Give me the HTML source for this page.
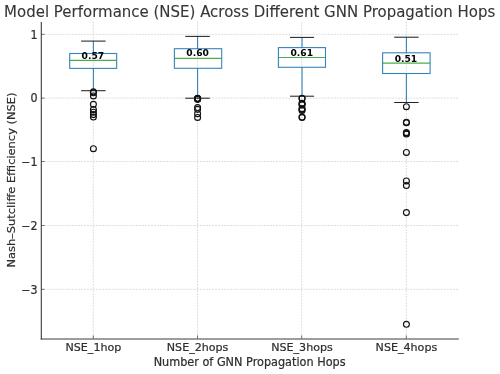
<!DOCTYPE html>
<html lang="en">
<head>
<meta charset="utf-8">
<title>Model Performance (NSE) Across Different GNN Propagation Hops</title>
<style>
html,body{margin:0;padding:0;background:#ffffff;}
body{width:500px;height:374px;overflow:hidden;position:relative;}
</style>
</head>
<body>
<svg width="500" height="374" viewBox="0 0 500 374" style="position:absolute;left:0;top:0;display:block" font-family='"DejaVu Sans","Liberation Sans",sans-serif'>
<rect x="0" y="0" width="500" height="374" fill="#ffffff"/>
<g stroke="#c3c3c3" stroke-width="0.55" stroke-dasharray="2.0 1.05" fill="none">
<line x1="93.3" y1="21.6" x2="93.3" y2="338.7"/>
<line x1="197.5" y1="21.6" x2="197.5" y2="338.7"/>
<line x1="301.7" y1="21.6" x2="301.7" y2="338.7"/>
<line x1="406.3" y1="21.6" x2="406.3" y2="338.7"/>
<line x1="41.2" y1="34.35" x2="458.8" y2="34.35"/>
<line x1="41.2" y1="98.10" x2="458.8" y2="98.10"/>
<line x1="41.2" y1="161.50" x2="458.8" y2="161.50"/>
<line x1="41.2" y1="225.50" x2="458.8" y2="225.50"/>
<line x1="41.2" y1="289.30" x2="458.8" y2="289.30"/>
</g>
<g fill="none">
<g stroke="#1f77b4" stroke-width="1.1" stroke-opacity="0.9">
<line x1="93.4" y1="53.5" x2="93.4" y2="41.1"/>
<line x1="93.4" y1="68.4" x2="93.4" y2="90.7"/>
<rect x="69.7" y="53.5" width="46.95" height="14.90"/>
</g>
<line x1="69.7" y1="60.3" x2="116.65" y2="60.3" stroke="#2ca02c" stroke-width="1.15" stroke-opacity="0.85"/>
<line x1="81.1" y1="41.1" x2="105.6" y2="41.1" stroke="#222" stroke-width="1.05"/>
<line x1="81.1" y1="90.7" x2="105.6" y2="90.7" stroke="#222" stroke-width="1.05"/>
<circle cx="93.4" cy="91.8" r="2.95" stroke="#111" stroke-width="1.15"/>
<circle cx="93.4" cy="92.8" r="2.95" stroke="#111" stroke-width="1.15"/>
<circle cx="93.4" cy="95.9" r="2.95" stroke="#111" stroke-width="1.15"/>
<circle cx="93.4" cy="104.3" r="2.95" stroke="#111" stroke-width="1.15"/>
<circle cx="93.4" cy="109.6" r="2.95" stroke="#111" stroke-width="1.15"/>
<circle cx="93.4" cy="112.2" r="2.95" stroke="#111" stroke-width="1.15"/>
<circle cx="93.4" cy="114.6" r="2.95" stroke="#111" stroke-width="1.15"/>
<circle cx="93.4" cy="117.0" r="2.95" stroke="#111" stroke-width="1.15"/>
<circle cx="93.4" cy="148.7" r="2.95" stroke="#111" stroke-width="1.15"/>
</g>
<text x="92.9" y="58.75" font-size="9.5" font-weight="bold" fill="#000" text-anchor="middle" textLength="22.6" lengthAdjust="spacingAndGlyphs">0.57</text>
<g fill="none">
<g stroke="#1f77b4" stroke-width="1.1" stroke-opacity="0.9">
<line x1="197.6" y1="48.7" x2="197.6" y2="36.4"/>
<line x1="197.6" y1="68.3" x2="197.6" y2="98.2"/>
<rect x="174.4" y="48.7" width="47.30" height="19.60"/>
</g>
<line x1="174.4" y1="58.4" x2="221.7" y2="58.4" stroke="#2ca02c" stroke-width="1.15" stroke-opacity="0.85"/>
<line x1="185.3" y1="36.4" x2="209.8" y2="36.4" stroke="#222" stroke-width="1.05"/>
<line x1="185.3" y1="98.2" x2="209.8" y2="98.2" stroke="#222" stroke-width="1.05"/>
<circle cx="197.6" cy="98.3" r="2.95" stroke="#111" stroke-width="1.15"/>
<circle cx="197.6" cy="98.6" r="2.95" stroke="#111" stroke-width="1.15"/>
<circle cx="197.6" cy="98.85" r="2.95" stroke="#111" stroke-width="1.15"/>
<circle cx="197.6" cy="99.1" r="2.95" stroke="#111" stroke-width="1.15"/>
<circle cx="197.6" cy="99.35" r="2.95" stroke="#111" stroke-width="1.15"/>
<circle cx="197.6" cy="107.55" r="2.95" stroke="#111" stroke-width="1.15"/>
<circle cx="197.6" cy="109.35" r="2.95" stroke="#111" stroke-width="1.15"/>
<circle cx="197.6" cy="113.7" r="2.95" stroke="#111" stroke-width="1.15"/>
<circle cx="197.6" cy="117.4" r="2.95" stroke="#111" stroke-width="1.15"/>
</g>
<text x="197.6" y="56.25" font-size="9.5" font-weight="bold" fill="#000" text-anchor="middle" textLength="22.6" lengthAdjust="spacingAndGlyphs">0.60</text>
<g fill="none">
<g stroke="#1f77b4" stroke-width="1.1" stroke-opacity="0.9">
<line x1="302.05" y1="47.6" x2="302.05" y2="37.4"/>
<line x1="302.05" y1="67.3" x2="302.05" y2="96.2"/>
<rect x="278.4" y="47.6" width="47.10" height="19.70"/>
</g>
<line x1="278.4" y1="57.45" x2="325.5" y2="57.45" stroke="#2ca02c" stroke-width="1.15" stroke-opacity="0.85"/>
<line x1="290.0" y1="37.4" x2="314.1" y2="37.4" stroke="#222" stroke-width="1.05"/>
<line x1="290.0" y1="96.2" x2="314.1" y2="96.2" stroke="#222" stroke-width="1.05"/>
<circle cx="302.05" cy="98.2" r="2.95" stroke="#111" stroke-width="1.15"/>
<circle cx="302.05" cy="98.6" r="2.95" stroke="#111" stroke-width="1.15"/>
<circle cx="302.05" cy="103.2" r="2.95" stroke="#111" stroke-width="1.15"/>
<circle cx="302.05" cy="104.0" r="2.95" stroke="#111" stroke-width="1.15"/>
<circle cx="302.05" cy="104.9" r="2.95" stroke="#111" stroke-width="1.15"/>
<circle cx="302.05" cy="108.7" r="2.95" stroke="#111" stroke-width="1.15"/>
<circle cx="302.05" cy="109.5" r="2.95" stroke="#111" stroke-width="1.15"/>
<circle cx="302.05" cy="110.4" r="2.95" stroke="#111" stroke-width="1.15"/>
<circle cx="302.05" cy="117.1" r="2.95" stroke="#111" stroke-width="1.15"/>
<circle cx="302.05" cy="117.5" r="2.95" stroke="#111" stroke-width="1.15"/>
</g>
<text x="301.75" y="56.25" font-size="9.5" font-weight="bold" fill="#000" text-anchor="middle" textLength="22.6" lengthAdjust="spacingAndGlyphs">0.61</text>
<g fill="none">
<g stroke="#1f77b4" stroke-width="1.1" stroke-opacity="0.9">
<line x1="406.4" y1="52.8" x2="406.4" y2="37.2"/>
<line x1="406.4" y1="73.5" x2="406.4" y2="102.5"/>
<rect x="382.6" y="52.8" width="47.50" height="20.70"/>
</g>
<line x1="382.6" y1="63.05" x2="430.1" y2="63.05" stroke="#2ca02c" stroke-width="1.15" stroke-opacity="0.85"/>
<line x1="394.2" y1="37.2" x2="418.6" y2="37.2" stroke="#222" stroke-width="1.05"/>
<line x1="394.2" y1="102.5" x2="418.6" y2="102.5" stroke="#222" stroke-width="1.05"/>
<circle cx="406.4" cy="106.7" r="2.95" stroke="#111" stroke-width="1.15"/>
<circle cx="406.4" cy="122.2" r="2.95" stroke="#111" stroke-width="1.15"/>
<circle cx="406.4" cy="122.8" r="2.95" stroke="#111" stroke-width="1.15"/>
<circle cx="406.4" cy="132.6" r="2.95" stroke="#111" stroke-width="1.15"/>
<circle cx="406.4" cy="133.2" r="2.95" stroke="#111" stroke-width="1.15"/>
<circle cx="406.4" cy="134.0" r="2.95" stroke="#111" stroke-width="1.15"/>
<circle cx="406.4" cy="152.4" r="2.95" stroke="#111" stroke-width="1.15"/>
<circle cx="406.4" cy="180.9" r="2.95" stroke="#111" stroke-width="1.15"/>
<circle cx="406.4" cy="185.5" r="2.95" stroke="#111" stroke-width="1.15"/>
<circle cx="406.4" cy="212.6" r="2.95" stroke="#111" stroke-width="1.15"/>
<circle cx="406.4" cy="324.3" r="2.95" stroke="#111" stroke-width="1.15"/>
</g>
<text x="405.95" y="61.85" font-size="9.5" font-weight="bold" fill="#000" text-anchor="middle" textLength="22.6" lengthAdjust="spacingAndGlyphs">0.51</text>
<g stroke="#3c3c3c" stroke-width="1.1" fill="none" stroke-linecap="butt">
<line x1="41.300000000000004" y1="22.0" x2="41.300000000000004" y2="339.5"/>
<line x1="40.75" y1="338.95" x2="458.8" y2="338.95"/>
</g>
<g stroke="#3c3c3c" stroke-width="0.7" fill="none">
<line x1="93.3" y1="338.7" x2="93.3" y2="335.4"/>
<line x1="197.5" y1="338.7" x2="197.5" y2="335.4"/>
<line x1="301.7" y1="338.7" x2="301.7" y2="335.4"/>
<line x1="406.3" y1="338.7" x2="406.3" y2="335.4"/>
<line x1="41.2" y1="34.35" x2="44.6" y2="34.35"/>
<line x1="41.2" y1="98.10" x2="44.6" y2="98.10"/>
<line x1="41.2" y1="161.50" x2="44.6" y2="161.50"/>
<line x1="41.2" y1="225.50" x2="44.6" y2="225.50"/>
<line x1="41.2" y1="289.30" x2="44.6" y2="289.30"/>
</g>
<g font-size="11.1" fill="#2e2e2e" stroke="#2e2e2e" stroke-width="0.22">
<text transform="translate(37.6,38.70) scale(1,1.045)" text-anchor="end">1</text>
<text transform="translate(37.6,102.45) scale(1,1.045)" text-anchor="end">0</text>
<text transform="translate(37.6,165.85) scale(1,1.045)" text-anchor="end">−1</text>
<text transform="translate(37.6,229.85) scale(1,1.045)" text-anchor="end">−2</text>
<text transform="translate(37.6,293.65) scale(1,1.045)" text-anchor="end">−3</text>
<text transform="translate(93.4,350.75) scale(1,1.02)" text-anchor="middle">NSE_1hop</text>
<text transform="translate(197.6,350.75) scale(1,1.02)" text-anchor="middle">NSE_2hops</text>
<text transform="translate(302.0,350.75) scale(1,1.02)" text-anchor="middle">NSE_3hops</text>
<text transform="translate(406.4,350.75) scale(1,1.02)" text-anchor="middle">NSE_4hops</text>
</g>
<text transform="translate(249.6,366.45) scale(1,1.02)" font-size="11.27" fill="#2e2e2e" stroke="#2e2e2e" stroke-width="0.22" text-anchor="middle">Number of GNN Propagation Hops</text>
<text transform="translate(15.3,180.1) rotate(-90) scale(1,0.96)" font-size="11.42" fill="#2e2e2e" stroke="#2e2e2e" stroke-width="0.22" text-anchor="middle">Nash–Sutcliffe Efficiency (NSE)</text>
<text transform="translate(249.65,16.6) scale(1,1.003)" font-size="14.99" fill="#363636" stroke="#363636" stroke-width="0.1" text-anchor="middle">Model Performance (NSE) Across Different GNN Propagation Hops</text>
</svg>
</body>
</html>
